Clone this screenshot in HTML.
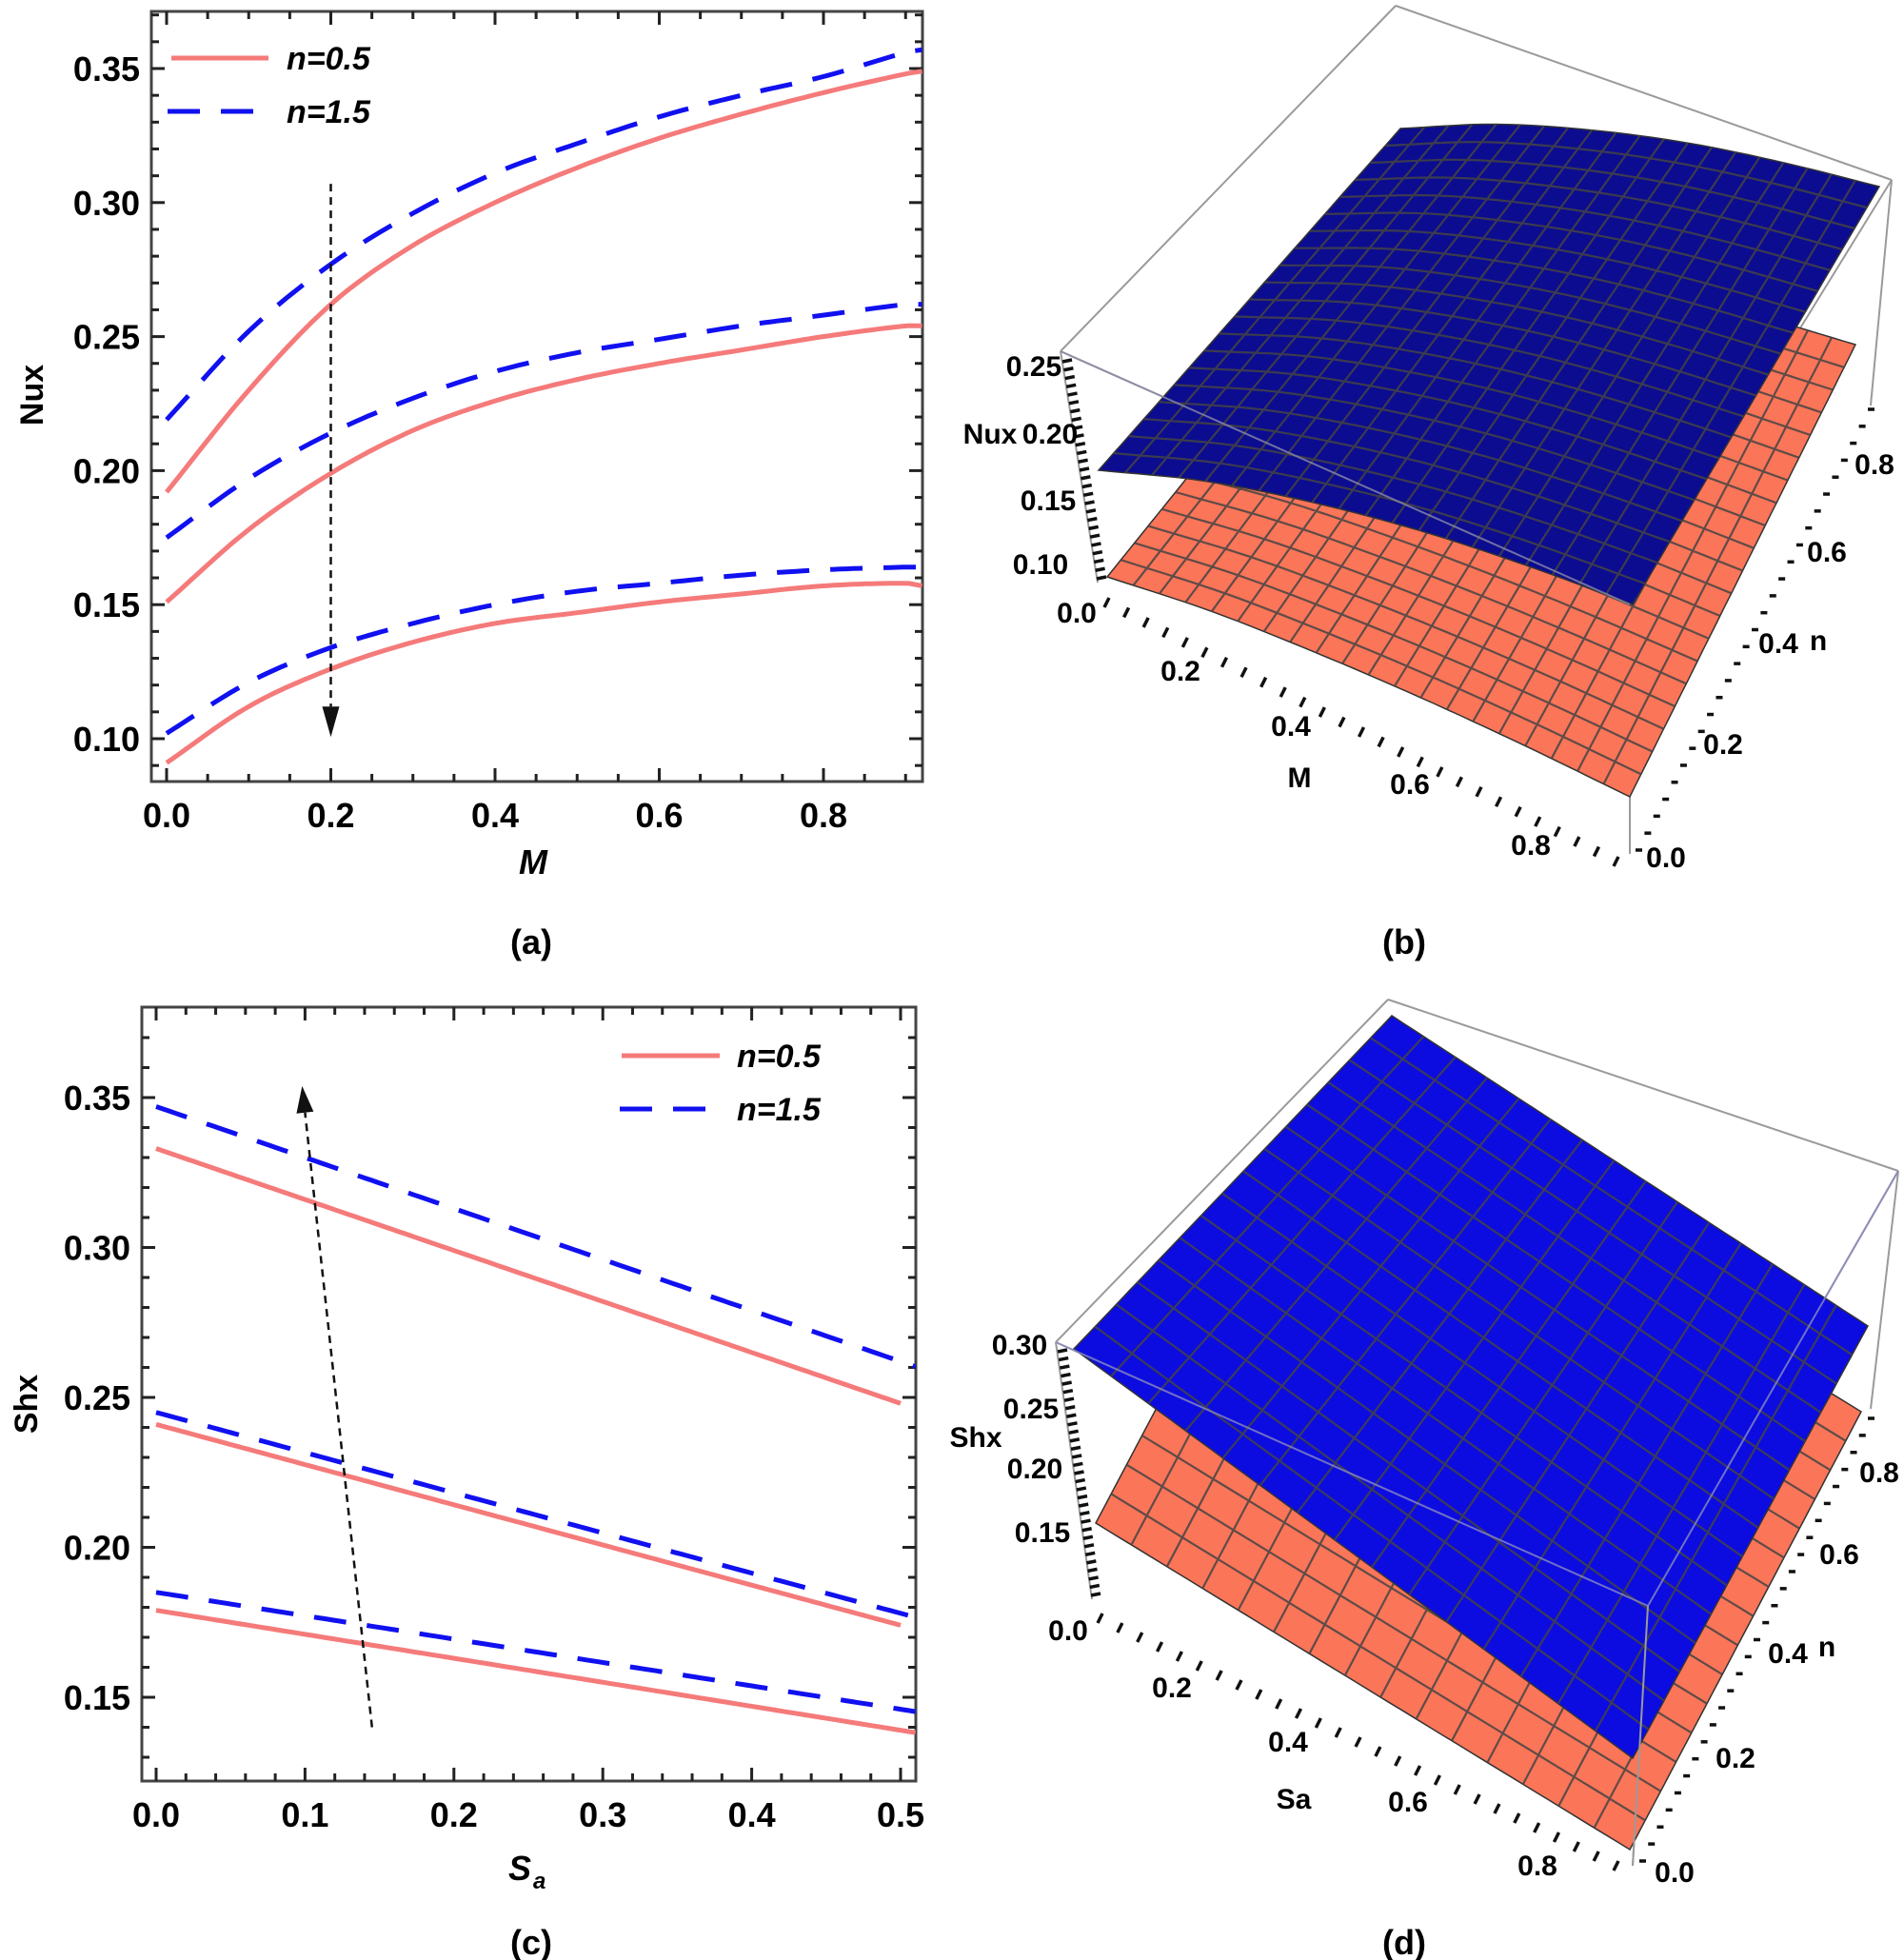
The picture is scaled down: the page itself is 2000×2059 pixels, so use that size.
<!DOCTYPE html>
<html><head><meta charset="utf-8">
<style>
html,body{margin:0;padding:0;background:#fff;}
svg{display:block;}
text{font-family:"Liberation Sans",sans-serif;}
</style></head>
<body>
<svg id="fig" width="2000" height="2059" viewBox="0 0 2000 2059" xmlns="http://www.w3.org/2000/svg">
<g id="pa"></g>
<g id="pb"></g>
<g id="pc"></g>
<g id="pd"></g>
</svg>
<script>
// ---- Panel (a) data ----
const mValues = [0, 0.1, 0.2, 0.3, 0.4, 0.5, 0.6, 0.7, 0.8, 0.9, 0.92];
const nuxRedTop = [0.192, 0.230, 0.262, 0.284, 0.300, 0.313, 0.324, 0.333, 0.341, 0.348, 0.349];
const nuxBlueTop = [0.219, 0.252, 0.277, 0.296, 0.311, 0.322, 0.332, 0.340, 0.347, 0.356, 0.357];
const nuxRedMid = [0.151, 0.178, 0.199, 0.215, 0.226, 0.234, 0.240, 0.245, 0.250, 0.254, 0.254];
const nuxBlueMid = [0.175, 0.197, 0.214, 0.227, 0.237, 0.244, 0.249, 0.254, 0.258, 0.262, 0.262];
const nuxRedLow = [0.091, 0.112, 0.126, 0.136, 0.143, 0.147, 0.151, 0.154, 0.157, 0.158, 0.157];
const nuxBlueLow = [0.102, 0.121, 0.134, 0.143, 0.150, 0.155, 0.158, 0.161, 0.163, 0.164, 0.164];
const aXTicks = [0, 0.2, 0.4, 0.6, 0.8];
const aXTickLabels = ["0.0", "0.2", "0.4", "0.6", "0.8"];
const aYTicks = [0.10, 0.15, 0.20, 0.25, 0.30, 0.35];
const aYTickLabels = ["0.10", "0.15", "0.20", "0.25", "0.30", "0.35"];
// ---- Panel (c) data ----
const saValues = [0, 0.5];
const shxRedTop = [0.333, 0.248];
const shxBlueTop = [0.347, 0.262];
const shxRedMid = [0.241, 0.174];
const shxBlueMid = [0.245, 0.178];
const shxRedLow = [0.179, 0.139];
const shxBlueLow = [0.185, 0.146];
const cXTicks = [0, 0.1, 0.2, 0.3, 0.4, 0.5];
const cXTickLabels = ["0.0", "0.1", "0.2", "0.3", "0.4", "0.5"];
const cYTicks = [0.15, 0.20, 0.25, 0.30, 0.35];
const cYTickLabels = ["0.15", "0.20", "0.25", "0.30", "0.35"];
// ---- Panel (b) surface profile along M (Nux) ----
const bSurfM = [0, 0.2, 0.4, 0.6, 0.8, 1.0];
const bBlueNux = [0.170, 0.205, 0.228, 0.243, 0.250, 0.252];
const bOrangeNux = [0.090, 0.112, 0.126, 0.136, 0.142, 0.145];
// ---- Panel (d) plane values ----
const dBlueShx = [0.30, 0.25];
const dOrangeShx = [0.15, 0.13];

const NS = "http://www.w3.org/2000/svg";
function mk(parent, tag, attrs, txt){
  const e = document.createElementNS(NS, tag);
  for (const k in attrs) e.setAttribute(k, attrs[k]);
  if (txt !== undefined) e.textContent = txt;
  parent.appendChild(e);
  return e;
}
function interp(xs, ys, x){
  let i = 0;
  while (i < xs.length - 2 && x > xs[i+1]) i++;
  const x0 = xs[i], x1 = xs[i+1];
  const t = (x - x0) / (x1 - x0);
  const y0 = ys[Math.max(i-1,0)], y1 = ys[i], y2 = ys[i+1], y3 = ys[Math.min(i+2, ys.length-1)];
  const h = x1 - x0;
  const m1 = (i > 0) ? (y2 - y0) / (xs[i+1] - xs[i-1]) * h : (y2 - y1);
  const m2 = (i + 2 < xs.length) ? (y3 - y1) / (xs[i+2] - xs[i]) * h : (y2 - y1);
  const t2 = t*t, t3 = t2*t;
  return (2*t3-3*t2+1)*y1 + (t3-2*t2+t)*m1 + (-2*t3+3*t2)*y2 + (t3-t2)*m2;
}

function plot2D(g, cfg){
  const {L,T,R,B,x0px,xPerUnit,y0val,y0px,yPerUnit} = cfg;
  const X = v => x0px + v * xPerUnit;
  const Y = v => y0px - (v - y0val) * yPerUnit;
  const frame = mk(g, "rect", {x:L, y:T, width:R-L, height:B-T, fill:"none", stroke:"#444", "stroke-width":3});
  
  
  const tg = mk(g, "g", {stroke:"#222", "stroke-width":3});
  
  
  for (let v = cfg.xMinorStart; v <= cfg.xMax + 1e-9; v += cfg.xMinor) {
    const px = X(v); if (px < L+2 || px > R-2) continue;
    const major = Math.abs(v/cfg.xMajor - Math.round(v/cfg.xMajor)) < 1e-6;
    const len = major ? 14 : 8;
    mk(tg, "line", {x1:px, y1:B, x2:px, y2:B-len});
    mk(tg, "line", {x1:px, y1:T, x2:px, y2:T+len});
  }
  for (let v = cfg.yMinorStart; v <= cfg.yMax + 1e-9; v += cfg.yMinor) {
    const py = Y(v); if (py < T+2 || py > B-2) continue;
    const major = Math.abs(v/cfg.yMajor - Math.round(v/cfg.yMajor)) < 1e-6;
    const len = major ? 14 : 8;
    mk(tg, "line", {x1:L, y1:py, x2:L+len, y2:py});
    mk(tg, "line", {x1:R, y1:py, x2:R-len, y2:py});
  }
  cfg.xTicks.forEach((v,i) => {
    const t = mk(g, "text", {x:X(v), y:B+48, "font-size":36, "font-weight":"bold", "text-anchor":"middle"}, cfg.xLabels[i]);
    
    
  });
  cfg.yTicks.forEach((v,i) => {
    const t = mk(g, "text", {x:L-12, y:Y(v)+13, "font-size":36, "font-weight":"bold", "text-anchor":"end"}, cfg.yLabels[i]);
    
    
  });
  const clip = mk(g, "clipPath", {id: cfg.id + "clip"});
  mk(clip, "rect", {x:L, y:T, width:R-L, height:B-T});
  const cg = mk(g, "g", {"clip-path": "url(#" + cfg.id + "clip)"});
  cfg.series.forEach(s => {
    let d = "";
    const x0 = s.xs[0], x1 = s.xs[s.xs.length-1];
    const N = 120;
    for (let k = 0; k <= N; k++) {
      const xv = x0 + (x1 - x0) * k / N;
      const yv = s.xs.length > 2 ? interp(s.xs, s.ys, xv) : s.ys[0] + (s.ys[1]-s.ys[0])*(xv-x0)/(x1-x0);
      d += (k ? "L" : "M") + X(xv).toFixed(1) + "," + Y(yv).toFixed(1);
    }
    const p = mk(cg, "path", {d:d, fill:"none", stroke: s.blue ? "#1010f0" : "#f57a7a", "stroke-width": 5,
      "stroke-dasharray": s.blue ? "34,22" : "none"});
    
    
  });
  return {X, Y};
}

// ---------- Panel (a) ----------
(function(){
  const g = document.getElementById("pa");
  const ax = plot2D(g, {id:"a", L:159, T:12, R:969, B:821, x0px:175, xPerUnit:862.5, y0val:0.35, y0px:72, yPerUnit:2816,
    xMinor:0.05, xMajor:0.2, xMinorStart:0, xMax:0.95, yMinor:0.01, yMajor:0.05, yMinorStart:0.08, yMax:0.375,
    xTicks:aXTicks, xLabels:aXTickLabels, yTicks:aYTicks, yLabels:aYTickLabels,
    series:[
      {name:"nux-n05-top", xs:mValues, ys:nuxRedTop, blue:false},
      {name:"nux-n15-top", xs:mValues, ys:nuxBlueTop, blue:true},
      {name:"nux-n05-mid", xs:mValues, ys:nuxRedMid, blue:false},
      {name:"nux-n15-mid", xs:mValues, ys:nuxBlueMid, blue:true},
      {name:"nux-n05-low", xs:mValues, ys:nuxRedLow, blue:false},
      {name:"nux-n15-low", xs:mValues, ys:nuxBlueLow, blue:true}
    ]});
  const arrow = mk(g, "line", {x1:ax.X(0.2), y1:ax.Y(0.307), x2:ax.X(0.2), y2:ax.Y(0.112), stroke:"#111", "stroke-width":2.5, "stroke-dasharray":"8,6"});
  
  
  const ah = mk(g, "polygon", {points:`${ax.X(0.2)-9},${ax.Y(0.112)} ${ax.X(0.2)+9},${ax.Y(0.112)} ${ax.X(0.2)},${ax.Y(0.112)+32}`, fill:"#111"});
  
  
  const lg = mk(g, "g", {});
  
  
  mk(lg, "line", {x1:180, y1:61, x2:282, y2:61, stroke:"#f57a7a", "stroke-width":5});
  mk(lg, "text", {x:301, y:73, "font-size":34, "font-weight":"bold", "font-style":"italic"}, "n=0.5");
  mk(lg, "line", {x1:176, y1:117, x2:286, y2:117, stroke:"#1010f0", "stroke-width":5, "stroke-dasharray":"34,22"});
  mk(lg, "text", {x:301, y:129, "font-size":34, "font-weight":"bold", "font-style":"italic"}, "n=1.5");
  const yl = mk(g, "text", {x:0, y:0, "font-size":34, "font-weight":"bold", "text-anchor":"middle", transform:"translate(45,415) rotate(-90)"}, "Nux");
  
  
  const xl = mk(g, "text", {x:560, y:918, "font-size":36, "font-weight":"bold", "font-style":"italic", "text-anchor":"middle"}, "M");
  
  
  const cap = mk(g, "text", {x:558, y:1002, "font-size":36, "font-weight":"bold", "text-anchor":"middle"}, "(a)");
  
  
})();

// ---------- Panel (c) ----------
(function(){
  const g = document.getElementById("pc");
  const ax = plot2D(g, {id:"c", L:149, T:1058, R:962, B:1871, x0px:164, xPerUnit:1564, y0val:0.35, y0px:1153, yPerUnit:3150,
    xMinor:0.02, xMajor:0.1, xMinorStart:0, xMax:0.52, yMinor:0.01, yMajor:0.05, yMinorStart:0.12, yMax:0.38,
    xTicks:cXTicks, xLabels:cXTickLabels, yTicks:cYTicks, yLabels:cYTickLabels,
    series:[
      {name:"shx-n05-top", xs:saValues, ys:shxRedTop, blue:false},
      {name:"shx-n15-top", xs:[0,0.51], ys:[shxBlueTop[0], shxBlueTop[0]+(shxBlueTop[1]-shxBlueTop[0])*1.02], blue:true},
      {name:"shx-n05-mid", xs:saValues, ys:shxRedMid, blue:false},
      {name:"shx-n15-mid", xs:[0,0.51], ys:[shxBlueMid[0], shxBlueMid[0]+(shxBlueMid[1]-shxBlueMid[0])*1.02], blue:true},
      {name:"shx-n05-low", xs:[0,0.51], ys:[shxRedLow[0], shxRedLow[0]+(shxRedLow[1]-shxRedLow[0])*1.02], blue:false},
      {name:"shx-n15-low", xs:[0,0.51], ys:[shxBlueLow[0], shxBlueLow[0]+(shxBlueLow[1]-shxBlueLow[0])*1.02], blue:true}
    ]});
  const x1 = ax.X(0.145), y1 = ax.Y(0.14), x2 = ax.X(0.100), y2 = ax.Y(0.345);
  const arrow = mk(g, "line", {x1:x1, y1:y1, x2:x2, y2:y2, stroke:"#111", "stroke-width":2.5, "stroke-dasharray":"8,6"});
  
  
  const ang = Math.atan2(y2-y1, x2-x1);
  const tipx = x2 + Math.cos(ang)*28, tipy = y2 + Math.sin(ang)*28;
  const px = -Math.sin(ang)*9, py = Math.cos(ang)*9;
  const ah = mk(g, "polygon", {points:`${x2+px},${y2+py} ${x2-px},${y2-py} ${tipx},${tipy}`, fill:"#111"});
  
  
  const lg = mk(g, "g", {});
  
  
  mk(lg, "line", {x1:653, y1:1109, x2:756, y2:1109, stroke:"#f57a7a", "stroke-width":5});
  mk(lg, "text", {x:774, y:1121, "font-size":34, "font-weight":"bold", "font-style":"italic"}, "n=0.5");
  mk(lg, "line", {x1:651, y1:1165, x2:758, y2:1165, stroke:"#1010f0", "stroke-width":5, "stroke-dasharray":"34,22"});
  mk(lg, "text", {x:774, y:1177, "font-size":34, "font-weight":"bold", "font-style":"italic"}, "n=1.5");
  const yl = mk(g, "text", {x:0, y:0, "font-size":34, "font-weight":"bold", "text-anchor":"middle", transform:"translate(39,1475) rotate(-90)"}, "Shx");
  
  
  const xl = mk(g, "text", {x:546, y:1975, "font-size":36, "font-weight":"bold", "font-style":"italic", "text-anchor":"middle"}, "S");
  
  
  mk(g, "text", {x:560, y:1984, "font-size":24, "font-weight":"bold", "font-style":"italic"}, "a");
  const cap = mk(g, "text", {x:558, y:2053, "font-size":36, "font-weight":"bold", "text-anchor":"middle"}, "(c)");
  
  
})();

// ---------- 3D helpers ----------
function bil(c, u, v){
  const x = (1-u)*(1-v)*c[0][0] + u*(1-v)*c[1][0] + u*v*c[2][0] + (1-u)*v*c[3][0];
  const y = (1-u)*(1-v)*c[0][1] + u*(1-v)*c[1][1] + u*v*c[2][1] + (1-u)*v*c[3][1];
  return [x,y];
}
function surface(g, name, corners, N, fill, zProfileX, zProfile, zScale){
  const grp = mk(g, "g", {});
  
  
  const z0 = zProfile[0], z1 = zProfile[zProfile.length-1];
  function P(u, v){
    const p = bil(corners, u, v);
    const z = zProfile.length > 2 ? interp(zProfileX, zProfile, u) : z0 + (z1-z0)*u;
    const chord = z0 + (z1 - z0) * u;
    return [p[0], p[1] - (z - chord) * zScale];
  }
  let d = "";
  const S = 40;
  for (let k=0;k<=S;k++){ const p=P(k/S,0); d += (k?"L":"M")+p[0].toFixed(1)+","+p[1].toFixed(1); }
  for (let k=0;k<=S;k++){ const p=P(1,k/S); d += "L"+p[0].toFixed(1)+","+p[1].toFixed(1); }
  for (let k=S;k>=0;k--){ const p=P(k/S,1); d += "L"+p[0].toFixed(1)+","+p[1].toFixed(1); }
  for (let k=S;k>=0;k--){ const p=P(0,k/S); d += "L"+p[0].toFixed(1)+","+p[1].toFixed(1); }
  mk(grp, "path", {d:d+"Z", fill:fill, stroke:"#333", "stroke-width":1.5});
  let gd = "";
  for (let i=1;i<N;i++){
    const u=i/N;
    for (let k=0;k<=S;k++){ const p=P(u,k/S); gd += (k?"L":"M")+p[0].toFixed(1)+","+p[1].toFixed(1); }
    const v=i/N;
    for (let k=0;k<=S;k++){ const p=P(k/S,v); gd += (k?"L":"M")+p[0].toFixed(1)+","+p[1].toFixed(1); }
  }
  mk(grp, "path", {d:gd, fill:"none", stroke:"#444", "stroke-width":2.2, opacity:0.85});
}
function boxLines(g, segs){
  const grp = mk(g, "g", {stroke:"#9a9a9a", "stroke-width":2, fill:"none"});
  
  
  segs.forEach(s => mk(grp, "line", {x1:s[0], y1:s[1], x2:s[2], y2:s[3]}));
}
function tickRow(g, name, a, b, n, dx, dy){
  const grp = mk(g, "g", {stroke:"#111", "stroke-width":3.5});
  
  
  for (let i=0;i<=n;i++){
    const t=i/n; const x=a[0]+(b[0]-a[0])*t, y=a[1]+(b[1]-a[1])*t;
    mk(grp, "line", {x1:x, y1:y, x2:x+dx, y2:y+dy});
  }
}
function label(g, name, x, y, txt, size){
  const t = mk(g, "text", {x:x, y:y, "font-size":size||30, "font-weight":"bold", "text-anchor":"middle", "font-family":"'Liberation Sans Narrow','Liberation Sans',sans-serif"}, txt);
  
  
}

// ---------- Panel (b) ----------
(function(){
  const g = document.getElementById("pb");
  boxLines(g, [[1466,6,1987,189],[1466,6,1114,369],[1114,369,1712,635],[1987,189,1712,635],
               [1114,369,1153,612],[1987,189,1965,426],[1712,635,1712,897]]);
  tickRow(g, "z-axis-ticks", [1116,380], [1152,608], 26, 10, -2);
  tickRow(g, "m-axis-ticks", [1165,628], [1700,900], 26, -5, 10);
  tickRow(g, "n-axis-ticks", [1718,893], [1962,430], 26, 7, 0);
  surface(g, "orange-surface-n05", [[1163,606],[1712,837],[1949,362],[1450,250]], 20, "#fb7558", bSurfM, bOrangeNux, 900);
  surface(g, "blue-surface-n15", [[1154,494],[1715,635],[1974,196],[1471,135]], 20, "#0c0c90", bSurfM, bBlueNux, 900);
  mk(g, "line", {x1:1114, y1:369, x2:1712, y2:635, stroke:"#8a8aa8", "stroke-width":2, opacity:0.8});
  [["z-tick-label",1086,395,"0.25"],["z-tick-label",1103,466,"0.20"],["z-tick-label",1101,536,"0.15"],["z-tick-label",1093,603,"0.10"],
   ["m-tick-label",1131,654,"0.0"],["m-tick-label",1240,715,"0.2"],["m-tick-label",1356,773,"0.4"],["m-tick-label",1481,834,"0.6"],["m-tick-label",1608,898,"0.8"],
   ["n-tick-label",1750,911,"0.0"],["n-tick-label",1810,792,"0.2"],["n-tick-label",1868,686,"0.4"],["n-tick-label",1919,590,"0.6"],["n-tick-label",1969,498,"0.8"]]
   .forEach(l => label(g, l[0], l[1], l[2], l[3]));
  label(g, "z-axis-title", 1040, 466, "Nux");
  label(g, "m-axis-title", 1365, 827, "M");
  label(g, "n-axis-title", 1910, 683, "n");
  const cap = mk(g, "text", {x:1475, y:1002, "font-size":36, "font-weight":"bold", "text-anchor":"middle"}, "(b)");
  
  
})();

// ---------- Panel (d) ----------
(function(){
  const g = document.getElementById("pd");
  boxLines(g, [[1458,1050,1994,1230],[1458,1050,1109,1410],[1109,1410,1731,1687],[1994,1230,1731,1687],
               [1109,1410,1147,1680],[1994,1230,1965,1480],[1731,1687,1715,1960]]);
  tickRow(g, "z-axis-ticks", [1111,1420], [1146,1676], 30, 10, -2);
  tickRow(g, "sa-axis-ticks", [1158,1695], [1700,1955], 26, -5, 10);
  tickRow(g, "n-axis-ticks", [1722,1955], [1962,1490], 26, 7, 0);
  surface(g, "orange-plane-n05", [[1151,1600],[1712,1943],[1955,1483],[1394,1140]], 15, "#fb7558", [0,1], dOrangeShx, 0);
  surface(g, "blue-plane-n15", [[1128,1417],[1715,1847],[1962,1393],[1462,1067]], 15, "#0c0ce0", [0,1], dBlueShx, 0);
  mk(g, "line", {x1:1109, y1:1410, x2:1731, y2:1687, stroke:"#8a8ac0", "stroke-width":2, opacity:0.8});
  mk(g, "line", {x1:1994, y1:1230, x2:1731, y2:1687, stroke:"#8a8ac0", "stroke-width":2, opacity:0.8});
  mk(g, "line", {x1:1731, y1:1687, x2:1715, y2:1960, stroke:"#9a9a9a", "stroke-width":2});
  [["z-tick-label",1071,1423,"0.30"],["z-tick-label",1083,1490,"0.25"],["z-tick-label",1087,1553,"0.20"],["z-tick-label",1095,1620,"0.15"],
   ["sa-tick-label",1122,1723,"0.0"],["sa-tick-label",1231,1783,"0.2"],["sa-tick-label",1353,1840,"0.4"],["sa-tick-label",1479,1903,"0.6"],["sa-tick-label",1615,1970,"0.8"],
   ["n-tick-label",1759,1977,"0.0"],["n-tick-label",1823,1857,"0.2"],["n-tick-label",1878,1747,"0.4"],["n-tick-label",1932,1643,"0.6"],["n-tick-label",1974,1557,"0.8"]]
   .forEach(l => label(g, l[0], l[1], l[2], l[3]));
  label(g, "z-axis-title", 1025, 1520, "Shx");
  label(g, "sa-axis-title", 1359, 1900, "Sa");
  label(g, "n-axis-title", 1919, 1740, "n");
  const cap = mk(g, "text", {x:1475, y:2053, "font-size":36, "font-weight":"bold", "text-anchor":"middle"}, "(d)");
  
  
})();
</script>
</body></html>
